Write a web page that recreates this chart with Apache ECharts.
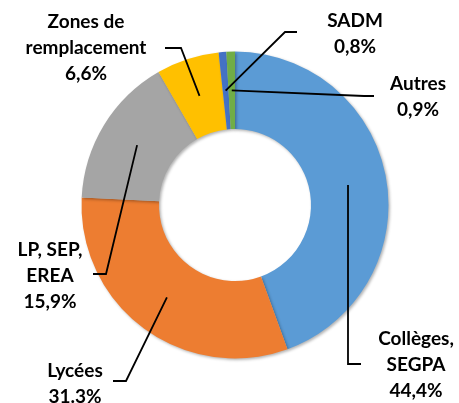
<!DOCTYPE html>
<html><head><meta charset="utf-8">
<script src="https://cdn.jsdelivr.net/npm/echarts@6/dist/echarts.min.js"></script>
<style>html,body{margin:0;padding:0;background:#fff}#c{width:459px;height:403px}</style>
</head><body><div id="c"></div>
<script>
const categories = ['Collèges,\nSEGPA', 'Lycées', 'LP, SEP,\nEREA', 'Zones de\nremplacement', 'SADM', 'Autres'];
const values = [44.4, 31.3, 15.9, 6.6, 0.8, 0.9];
const valueLabels = ['44,4%', '31.3%', '15,9%', '6,6%', '0,8%', '0,9%'];
const colors = ['#5B9BD5', '#ED7D31', '#A5A5A5', '#FFC000', '#4472C4', '#70AD47'];

const CX = 235, CY = 205, R_IN = 76, R_OUT = 153.5;
const R_MID = (R_IN + R_OUT) / 2;
// label placement: [labelX, labelY(block middle), elbowX, elbowY, endX]
const labelPlace = [
  [416, 365, 348, 364, 361],
  [75, 384, 126, 381, 113],
  [50, 276, 106, 274, 93],
  [86, 48, 181, 48, 165],
  [355, 34, 285, 32, 297],
  [418, 97, 364, 96, 374]
];

const total = values.reduce((a, b) => a + b, 0);
function midAngle(i) {
  let s = 0;
  for (let k = 0; k < i; k++) s += values[k];
  return (s + values[i] / 2) / total * Math.PI * 2; // clockwise from top
}

const leaderLines = values.map((v, i) => {
  const a = midAngle(i);
  const ax = CX + Math.sin(a) * R_MID;
  const ay = CY - Math.cos(a) * R_MID;
  const pl = labelPlace[i];
  return {
    type: 'polyline',
    z: 100,
    silent: true,
    shape: {points: [[ax, ay], [pl[2], pl[3]], [pl[4], pl[3]]]},
    style: {stroke: '#000', lineWidth: 1.8, fill: null}
  };
});

const chart = echarts.init(document.getElementById('c'), null, {renderer: 'canvas'});
chart.setOption({
  animation: false,
  backgroundColor: '#fff',
  color: colors,
  graphic: leaderLines,
  series: [{
    type: 'pie',
    center: [CX, CY],
    radius: [R_IN, R_OUT],
    startAngle: 90,
    clockwise: true,
    avoidLabelOverlap: false,
    itemStyle: {
      borderWidth: 0,
      shadowBlur: 3,
      shadowOffsetX: 1.5,
      shadowOffsetY: 1.5,
      shadowColor: 'rgba(0,0,0,0.3)'
    },
    emphasis: {disabled: true},
    label: {
      show: true,
      position: 'outside',
      formatter: p => p.name + '\n' + valueLabels[p.dataIndex],
      fontFamily: 'Lato',
      fontWeight: 'bold',
      fontSize: 19,
      lineHeight: 26,
      color: '#000',
      align: 'center'
    },
    labelLine: {show: false},
    labelLayout: function (params) {
      const pl = labelPlace[params.dataIndex];
      return {x: pl[0], y: pl[1], align: 'center', verticalAlign: 'middle'};
    },
    data: categories.map((c, i) => ({name: c, value: values[i]}))
  }]
});
</script></body></html>
